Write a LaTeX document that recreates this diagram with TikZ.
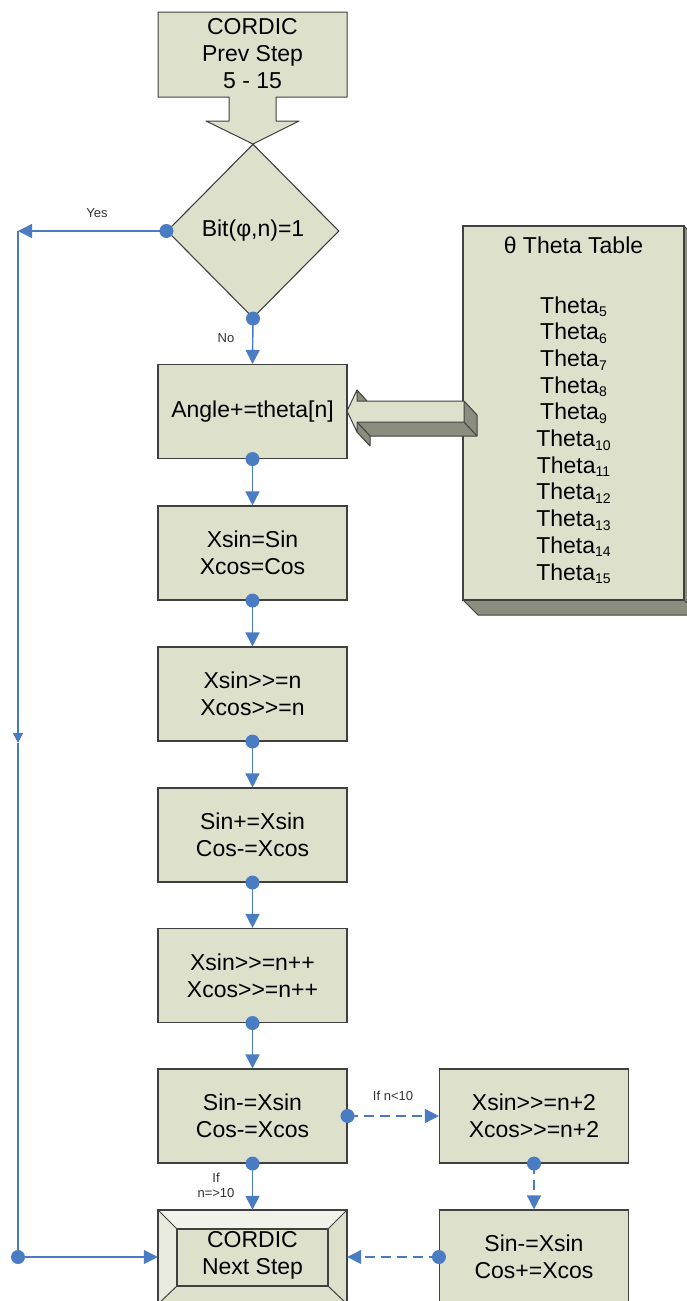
\documentclass[tikz,border=0pt]{standalone}
\usepackage{fontspec}
\setmainfont{Liberation Sans}[Ligatures=TeXOff]
\usetikzlibrary{arrows.meta,shapes.geometric}

\newcommand\boxfont{\fontsize{23}{27}\selectfont}
\newcommand\tagfont{\fontsize{13}{15}\selectfont}
\newcommand\subidx[1]{\raisebox{-0.3ex}{\fontsize{14}{14}\selectfont #1}}

\definecolor{boxfill}{RGB}{221,225,204}
\definecolor{boxline}{RGB}{64,64,64}
\definecolor{flow}{RGB}{74,124,196}
\definecolor{sideface}{RGB}{139,142,126}
\definecolor{bevellight}{RGB}{241,242,234}
\definecolor{bevelleft}{RGB}{232,234,221}

\tikzset{
  proc/.style={draw=boxline, fill=boxfill, line width=1.1pt, minimum width=189pt,
    minimum height=94pt, inner sep=0pt, align=center, font=\boxfont},
  conn/.style={draw=flow, line width=1.4pt, -{Triangle[length=14pt,width=14pt]}},
  dashconn/.style={conn, dash pattern=on 10pt off 6pt},
  plainconn/.style={draw=flow, line width=1.4pt},
  dot/.style={circle, fill=flow, inner sep=0pt, minimum size=14pt},
  tag/.style={font=\tagfont, text=black!80, align=center, inner sep=0pt},
  solid3d/.style={draw=boxline, line width=1pt, line join=round},
}

\begin{document}
\begin{tikzpicture}[x=1pt, y=-1pt]
\useasboundingbox (0,0) rectangle (687,1301);
\clip (0,0) rectangle (687,1301);

% previous step: box with a block arrow underneath
\draw[solid3d, fill=boxfill] (158,12) -- (347,12) -- (347,97) -- (276,97) -- (276,121)
  -- (299,121) -- (253,144) -- (206,121) -- (229,121) -- (229,97) -- (158,97) -- cycle;
\node[align=center, font=\boxfont, inner sep=0pt] (prev) at (252.5,54) {CORDIC\\Prev Step\\5 - 15};

% decision
\node[diamond, draw=boxline, fill=boxfill, line width=1.1pt, minimum width=172pt,
  minimum height=174pt, inner sep=0pt, font=\boxfont] (dia) at (253,231) {Bit(φ,n)=1};

% main column
\node[proc] (angle) at (252.5,411.5) {Angle+=theta[n]};
\node[proc] (cpy)   at (252.5,553)   {Xsin=Sin\\Xcos=Cos};
\node[proc] (shf)   at (252.5,694)   {Xsin>>=n\\Xcos>>=n};
\node[proc] (acc)   at (252.5,835)   {Sin+=Xsin\\Cos-=Xcos};
\node[proc] (shfi)  at (252.5,975.5) {Xsin>>=n++\\Xcos>>=n++};
\node[proc] (sub)   at (252.5,1116)  {Sin-=Xsin\\Cos-=Xcos};

% side column
\node[proc] (shft)  at (534,1116) {Xsin>>=n+2\\Xcos>>=n+2};
\node[proc] (fix)   at (534,1257) {Sin-=Xsin\\Cos+=Xcos};

% next step: bevelled box
\node[minimum width=189pt, minimum height=94pt, inner sep=0pt] (next) at (252.5,1257) {};
\fill[bevellight] (158,1210) -- (347,1210) -- (328,1229) -- (177,1229) -- cycle;
\fill[bevelleft]  (158,1210) -- (177,1229) -- (177,1286) -- (158,1304) -- cycle;
\fill[boxfill]    (347,1210) -- (347,1304) -- (328,1286) -- (328,1229) -- cycle;
\fill[boxfill]    (158,1304) -- (347,1304) -- (328,1286) -- (177,1286) -- cycle;
\draw[boxline, line width=1pt] (158,1210) -- (177,1229) (347,1210) -- (328,1229)
  (158,1304) -- (177,1286) (347,1304) -- (328,1286);
\draw[boxline, line width=1.1pt] (158,1210) rectangle (347,1304);
\draw[boxline, line width=1.1pt, fill=boxfill] (177,1229) rectangle (328,1286);
\node[align=center, font=\boxfont, inner sep=0pt] (nexttxt) at (252.5,1255) {CORDIC\\Next Step};

% theta table (3D slab)
\fill[sideface] (463,600) -- (478,615) -- (699,615) -- (684,600) -- cycle;
\fill[sideface] (684,226) -- (699,241) -- (699,615) -- (684,600) -- cycle;
\draw[solid3d] (463,600) -- (478,615) -- (699,615) (684,226) -- (699,241) -- (699,615) -- (684,600);
\node[draw=boxline, fill=boxfill, line width=1.1pt, minimum width=221pt,
  minimum height=374pt, inner sep=0pt] (tbl) at (573.5,413) {};
\node[font=\boxfont, inner sep=0pt] (tbltitle) at (573.5,245) {θ Theta Table};
\foreach \i [count=\k from 0] in {5,...,15}
  \node[font=\boxfont, inner sep=0pt, anchor=base] (th\i) at (573.5,313+\k*26.7) {Theta\subidx{\i}};

% 3D block arrow from the table into the angle step
\fill[sideface] (464,401) -- (477,415) -- (477,436) -- (370,436) -- (370,446)
  -- (357,432) -- (357,422) -- (464,422) -- cycle;
\fill[sideface] (357,390) -- (367,401) -- (357,401) -- cycle;
\draw[solid3d] (464,401) -- (477,415) -- (477,436) -- (370,436) -- (370,446) -- (357,432);
\draw[solid3d] (464,422) -- (477,436) (357,422) -- (370,436) (357,390) -- (367,401);
\draw[solid3d, fill=boxfill] (347,411) -- (357,390) -- (357,401) -- (464,401)
  -- (464,422) -- (357,422) -- (357,432) -- cycle;

% connectors
\coordinate (yestop) at (18,231);
\coordinate (yesmid) at (18,743);
\coordinate (yesbot) at (18,1257);

\draw[conn] (dia.west) -- (yestop);
\draw[plainconn, -{Triangle[length=10pt,width=10pt]}] (yestop) -- (yesmid);
\draw[plainconn] (yesmid) -- (yesbot);
\draw[conn] (yesbot) -- (next.west);
\node[dot] (d0) at (dia.west) {};
\node[dot] (d9) at (yesbot) {};
\node[tag] (lyes) at (97,213) {Yes};

\draw[conn] (dia.south) -- (angle.north);
\node[dot] (d1) at (dia.south) {};
\node[tag] (lno) at (226,338) {No};

\draw[conn] (angle.south) -- (cpy.north);  \node[dot] (d2) at (angle.south) {};
\draw[conn] (cpy.south) -- (shf.north);    \node[dot] (d3) at (cpy.south) {};
\draw[conn] (shf.south) -- (acc.north);    \node[dot] (d4) at (shf.south) {};
\draw[conn] (acc.south) -- (shfi.north);   \node[dot] (d5) at (acc.south) {};
\draw[conn] (shfi.south) -- (sub.north);   \node[dot] (d6) at (shfi.south) {};
\draw[conn] (sub.south) -- (next.north);   \node[dot] (d7) at (sub.south) {};
\node[tag] (lge) at (216,1185) {If\\n=>10};

\draw[dashconn] (sub.east) -- (shft.west);  \node[dot] (d8) at (sub.east) {};
\node[tag] (llt) at (393,1096) {If n<10};
\draw[dashconn] (shft.south) -- (fix.north); \node[dot] (d10) at (shft.south) {};
\draw[dashconn] (fix.west) -- (next.east);   \node[dot] (d11) at (fix.west) {};

\end{tikzpicture}
\end{document}
